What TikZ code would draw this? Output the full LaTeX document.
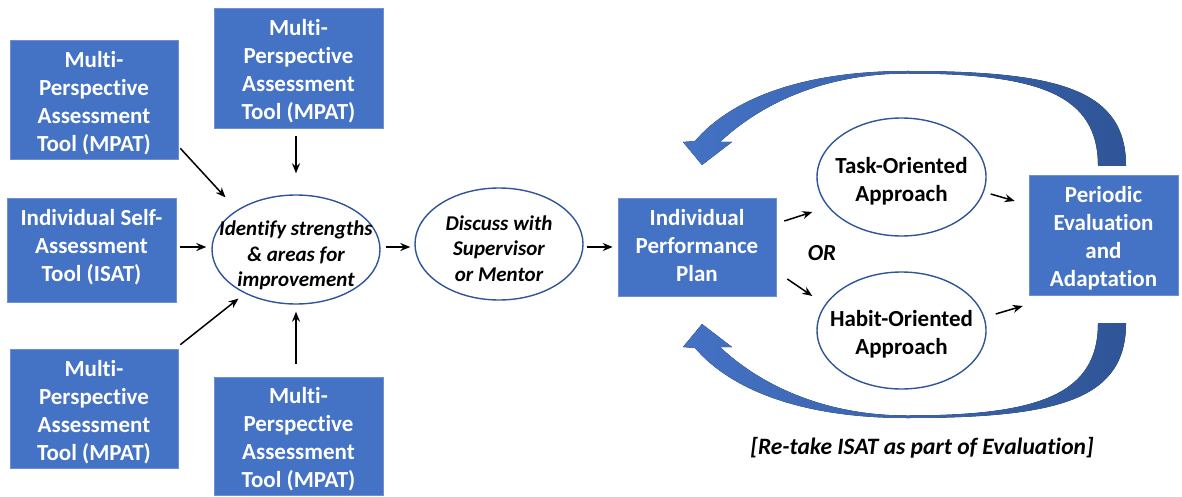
\documentclass[tikz,border=0pt]{standalone}
\usepackage{fontspec}
\setmainfont{Carlito}[Ligatures={NoCommon,NoContextual}]
\usetikzlibrary{shapes.geometric,arrows.meta,calc}
\definecolor{boxblue}{HTML}{4472C4}
\definecolor{boxedge}{HTML}{6F8FD0}
\definecolor{ellblue}{HTML}{2F5597}
\definecolor{arcL}{HTML}{4472C4}
\definecolor{arcR}{HTML}{2F5597}
\begin{document}
\begin{tikzpicture}[x=1pt,y=-1pt,
  box/.style={rectangle, fill=boxblue, draw=boxedge, line width=0.6pt, inner sep=0pt},
  boxtext/.style={text=white, font=\fontsize{23}{28}\selectfont\bfseries, align=center},
  ell/.style={ellipse, draw=ellblue, line width=1.4pt, fill=white, inner sep=0pt},
  elltext/.style={font=\fontsize{23}{28}\selectfont\bfseries, align=center},
  ellital/.style={font=\fontsize{21}{25.5}\selectfont\bfseries\itshape, align=center},
  arr/.style={-{Stealth[length=10pt,width=8pt]}, line width=1.5pt, black},
  bigarc/.style={left color=arcL, right color=arcR, draw=none}
]
\useasboundingbox (0,0) rectangle (1182,497);

% boxes (text placed at centre as label)
\node[box, minimum width=168pt, minimum height=119pt,
  label={[boxtext, yshift=-3.5pt]center:{Multi-\\Perspective\\Assessment\\Tool (MPAT)}}] (tl) at (94,99.5) {};
\node[box, minimum width=169pt, minimum height=120pt,
  label={[boxtext, yshift=-3.5pt]center:{Multi-\\Perspective\\Assessment\\Tool (MPAT)}}] (tm) at (298.5,68) {};
\node[box, minimum width=169pt, minimum height=104pt,
  label={[boxtext, yshift=3pt]center:{Individual Self-\\Assessment\\Tool (ISAT)}}] (isat) at (91.5,250) {};
\node[box, minimum width=168pt, minimum height=119pt,
  label={[boxtext, yshift=-3.5pt]center:{Multi-\\Perspective\\Assessment\\Tool (MPAT)}}] (bl) at (94,408.5) {};
\node[box, minimum width=169pt, minimum height=118pt,
  label={[boxtext, yshift=-3.5pt]center:{Multi-\\Perspective\\Assessment\\Tool (MPAT)}}] (bm) at (298.5,436) {};
\node[box, minimum width=158pt, minimum height=98pt,
  label={[boxtext, yshift=1pt]center:{Individual\\Performance\\Plan}}] (ipp) at (697,247) {};
\node[box, minimum width=149pt, minimum height=120pt,
  label={[boxtext, yshift=-3pt]center:{Periodic\\Evaluation\\and\\Adaptation}}] (per) at (1103.5,235) {};

% ellipses (text placed at centre as label so the outline keeps its size)
\node[ell, minimum width=168pt, minimum height=109pt,
  label={[ellital, yshift=-6pt]center:{Identify strengths\\\& areas for\\improvement}}] (id) at (296,249.5) {};
\node[ell, minimum width=168pt, minimum height=112pt,
  label={[ellital, yshift=-4.5pt]center:{Discuss with\\Supervisor\\or Mentor}}] (di) at (499,244) {};
\node[ell, minimum width=169pt, minimum height=118pt,
  label={[elltext, yshift=-4pt]center:{Task-Oriented\\Approach}}] (task) at (901.5,177) {};
\node[ell, minimum width=169pt, minimum height=117pt,
  label={[elltext, yshift=-4pt]center:{Habit-Oriented\\Approach}}] (habit) at (901.5,330.5) {};

% labels
\node[font=\fontsize{23}{28}\selectfont\bfseries\itshape] (or) at (822,253) {OR};
\node[font=\fontsize{23.5}{28}\selectfont\bfseries\itshape] (note) at (922,448) {[Re-take ISAT as part of Evaluation]};

% connectors
\draw[arr] ([shift={(2,-11)}]tl.south east) -- ([shift={(-10.6,-13)}]id.north west);
\draw[arr] ([shift={(-2.5,8)}]tm.south) -- ([shift={(0,-21)}]id.north);
\draw[arr] ([shift={(4,-3)}]isat.east) -- ([shift={(-5,-2.5)}]id.west);
\draw[arr] ([shift={(2,-4)}]bl.north east) -- ([shift={(2.4,10)}]id.south west);
\draw[arr] ([shift={(-2.5,-13)}]bm.north) -- ([shift={(0,7)}]id.south);
\draw[arr] ([shift={(5,-2.5)}]id.east) -- ([shift={(-4,3)}]di.west);
\draw[arr] ([shift={(3,3)}]di.east) -- ([shift={(-5,0)}]ipp.west);
\draw[arr] ([shift={(8,-26)}]ipp.east) -- ([shift={(-4,35)}]task.west);
\draw[arr] ([shift={(11,32)}]ipp.east) -- ([shift={(-4,-34.5)}]habit.west);
\draw[arr] ([shift={(4,17)}]task.east) -- ([shift={(-14,-34)}]per.west);
\draw[arr] ([shift={(9,-16.5)}]habit.east) -- ([shift={(-6,71)}]per.west);

% big curved feedback arrows
\fill[bigarc] (1126,166) .. controls (1126,90) and (1060,71) .. (907,71)
  .. controls (800,71) and (730,100) .. (695,141) -- (683,142) -- (702,165) -- (732,142) -- (720,142)
  .. controls (765,100) and (830,73.5) .. (907,73.5)
  .. controls (1040,73.5) and (1098,95) .. (1098,166) -- cycle;
\fill[bigarc] (1126,323) .. controls (1126,399) and (1060,418) .. (907,418)
  .. controls (800,418) and (730,389) .. (695,348) -- (683,347) -- (702,324) -- (732,347) -- (720,347)
  .. controls (765,389) and (830,415.5) .. (907,415.5)
  .. controls (1040,415.5) and (1098,394) .. (1098,323) -- cycle;
\end{tikzpicture}
\end{document}
